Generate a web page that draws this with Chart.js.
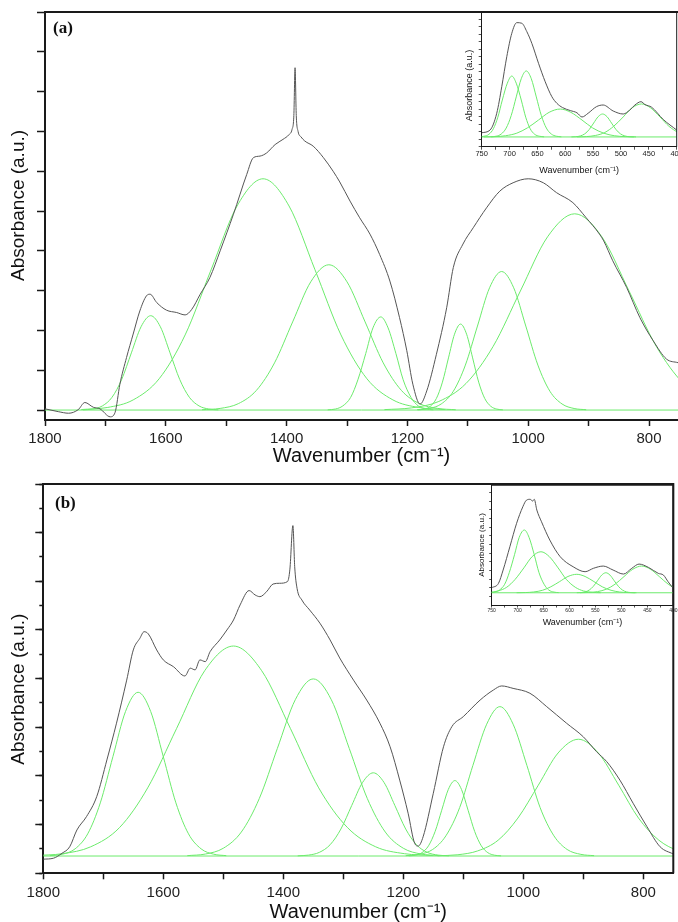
<!DOCTYPE html>
<html>
<head>
<meta charset="utf-8">
<script src="https://cdn.jsdelivr.net/npm/chart.js@4.4.0/dist/chart.umd.min.js"></script>
<style>
  html, body { margin: 0; padding: 0; background: #fff; width: 678px; height: 922px; overflow: hidden; }
  canvas { position: absolute; }
</style>
</head>
<body>
<canvas id="mainA" width="678" height="470" style="left:0;top:0"></canvas>
<canvas id="insetA" width="218" height="180" style="left:460px;top:0"></canvas>
<canvas id="mainB" width="678" height="460" style="left:0;top:470px"></canvas>
<canvas id="insetB" width="208" height="160" style="left:470px;top:480px"></canvas>
<script>
// ---- panel (a): measured spectrum and fitted bands, [wavenumber, absorbance] ----
const specA = [[1800,0.03],[1778,-0.04],[1761,-0.08],[1745,0.01],[1734,0.19],[1720,0.07],[1709,0.03],[1692,-0.17],[1684,-0.06],[1676,0.65],[1665,1.32],[1654,1.91],[1643,2.49],[1632,2.87],[1626,2.91],[1615,2.70],[1599,2.51],[1582,2.45],[1568,2.39],[1557,2.53],[1543,2.91],[1527,3.33],[1510,4.00],[1488,4.92],[1466,5.92],[1455,6.34],[1444,6.38],[1433,6.46],[1419,6.67],[1406,6.80],[1396,6.92],[1391,7.05],[1388,7.4],[1386,8.60],[1384,7.4],[1381,7.0],[1376,6.86],[1370,6.76],[1356,6.63],[1339,6.34],[1323,6.00],[1312,5.73],[1295,5.25],[1279,4.83],[1262,4.42],[1246,3.91],[1229,3.24],[1213,2.32],[1201,1.49],[1191,0.65],[1179,0.15],[1168,0.48],[1152,1.40],[1135,2.57],[1124,3.58],[1108,4.17],[1091,4.58],[1069,5.08],[1047,5.50],[1025,5.71],[1000,5.81],[975,5.71],[953,5.46],[926,5.21],[904,4.83],[882,4.42],[875,4.25],[860,3.75],[837,3.08],[815,2.32],[793,1.74],[771,1.28],[752,1.19]];
const aBase = [[1800,0],[752,0]];
const aFit1 = [[1737,0.005],[1721,0.026],[1705,0.104],[1689,0.321],[1673,0.770],[1657,1.437],[1641,2.092],[1625,2.37],[1609,2.092],[1593,1.437],[1577,0.770],[1561,0.321],[1545,0.104],[1529,0.026],[1513,0.005]];
const aFit2 = [[1740,0.013],[1697,0.064],[1654,0.255],[1611,0.786],[1568,1.887],[1525,3.524],[1482,5.127],[1439,5.81],[1396,5.127],[1353,3.524],[1310,1.887],[1267,0.786],[1224,0.255],[1181,0.064],[1138,0.013]];
const aFit3 = [[1540,0.008],[1510,0.041],[1480,0.160],[1450,0.494],[1420,1.185],[1390,2.214],[1360,3.221],[1330,3.65],[1300,3.221],[1270,2.214],[1240,1.185],[1210,0.494],[1180,0.160],[1150,0.041],[1120,0.008]];
const aFit4 = [[1332,0.005],[1319,0.026],[1307,0.103],[1294,0.317],[1282,0.760],[1269,1.419],[1257,2.065],[1244,2.34],[1232,2.065],[1219,1.419],[1207,0.760],[1194,0.317],[1182,0.103],[1169,0.026],[1157,0.005]];
const aFit5 = [[1182,0.005],[1172,0.024],[1162,0.095],[1152,0.292],[1142,0.701],[1132,1.310],[1122,1.906],[1112,2.16],[1102,1.906],[1092,1.310],[1082,0.701],[1072,0.292],[1062,0.095],[1052,0.024],[1042,0.005]];
const aFit6 = [[1184,0.008],[1164,0.039],[1144,0.153],[1124,0.471],[1104,1.130],[1084,2.111],[1064,3.071],[1044,3.48],[1024,3.071],[1004,2.111],[984,1.130],[964,0.471],[944,0.153],[924,0.039],[904,0.008]];
const aFit7 = [[1238,0.011],[1193,0.055],[1148,0.216],[1103,0.667],[1058,1.601],[1013,2.990],[968,4.351],[923,4.93],[878,4.351],[833,2.990],[788,1.601],[743,0.667],[698,0.216]];

// inset of (a), 750-400 cm-1
const specIA = [[750,-0.03],[735,0.15],[723,1.27],[714,3.04],[705,5.04],[696,6.6],[687,7.31],[678,7.27],[669,6.71],[660,5.93],[648,4.6],[636,3.37],[624,2.37],[615,1.93],[605,1.65],[591,1.45],[579,1.3],[570,1.02],[559,1.27],[544,1.71],[532,1.82],[514,1.42],[496,1.22],[484,1.49],[475,1.82],[464,2.04],[457,1.85],[445,1.67],[424,0.85],[400,0.15]];
const iaBase = [[750,-0.31],[400,-0.31]];
const iaFit1 = [[754,-0.301],[746,-0.265],[737,-0.132],[729,0.239],[721,1.008],[713,2.152],[704,3.273],[696,3.75],[688,3.273],[679,2.152],[671,1.008],[663,0.239],[655,-0.132],[646,-0.265],[638,-0.301]];
const iaFit2 = [[733,-0.300],[724,-0.261],[715,-0.117],[706,0.285],[697,1.119],[688,2.359],[679,3.573],[670,4.09],[661,3.573],[652,2.359],[643,1.119],[634,0.285],[625,-0.117],[616,-0.261],[607,-0.300]];
const iaFit3 = [[746,-0.306],[726,-0.289],[707,-0.228],[687,-0.058],[668,0.294],[648,0.818],[629,1.331],[609,1.55],[590,1.331],[570,0.818],[551,0.294],[531,-0.058],[512,-0.228],[492,-0.289],[473,-0.306]];
const iaFit4 = [[589,-0.307],[581,-0.293],[573,-0.243],[565,-0.103],[557,0.187],[549,0.618],[541,1.04],[533,1.22],[525,1.04],[517,0.618],[509,0.187],[501,-0.103],[493,-0.243],[485,-0.293],[477,-0.307]];
const iaFit5 = [[579,-0.305],[562,-0.286],[546,-0.213],[529,-0.012],[513,0.404],[496,1.024],[480,1.632],[463,1.89],[447,1.632],[430,1.024],[414,0.404],[397,-0.012],[381,-0.213]];

// ---- panel (b) ----
const specB = [[1800,0.58],[1783,0.62],[1769,0.82],[1756,1.09],[1744,1.78],[1728,2.33],[1711,3.15],[1694,4.66],[1678,6.17],[1661,7.94],[1650,9.18],[1639,9.66],[1632,9.93],[1625,9.84],[1611,9.18],[1600,8.77],[1583,8.49],[1564,8.11],[1555,8.43],[1547,8.36],[1539,8.77],[1530,8.70],[1522,9.11],[1506,9.59],[1494,10.0],[1483,10.41],[1472,11.03],[1457,11.62],[1447,11.44],[1439,11.37],[1428,11.57],[1417,11.89],[1406,11.92],[1393,11.99],[1389,12.5],[1384,14.29],[1381,12.6],[1377,11.7],[1369,11.23],[1356,10.82],[1339,10.28],[1322,9.59],[1306,8.85],[1283,7.94],[1261,7.12],[1239,6.17],[1222,5.20],[1206,3.83],[1192,2.47],[1181,1.23],[1175,1.12],[1167,1.50],[1150,3.29],[1133,5.20],[1119,6.03],[1100,6.44],[1072,7.12],[1050,7.53],[1036,7.70],[1017,7.60],[989,7.40],[961,6.85],[928,6.17],[900,5.61],[878,5.00],[861,4.59],[839,3.83],[817,2.88],[794,1.92],[772,1.09],[750,0.79]];
const bBase = [[1800,0.71],[750,0.71]];
const bFit1 = [[1789,0.725],[1768,0.785],[1747,1.005],[1726,1.621],[1705,2.895],[1684,4.792],[1663,6.649],[1642,7.44],[1621,6.649],[1600,4.792],[1579,2.895],[1558,1.621],[1537,1.005],[1516,0.785],[1495,0.725]];
const bFit2 = [[1816,0.729],[1768,0.806],[1721,1.089],[1673,1.878],[1626,3.512],[1578,5.944],[1531,8.326],[1483,9.34],[1436,8.326],[1388,5.944],[1341,3.512],[1293,1.878],[1246,1.089],[1198,0.806],[1151,0.729]];
const bFit3 = [[1560,0.726],[1530,0.791],[1500,1.03],[1470,1.695],[1440,3.074],[1410,5.125],[1380,7.135],[1350,7.99],[1320,7.135],[1290,5.125],[1260,3.074],[1230,1.695],[1200,1.03],[1170,0.791],[1140,0.726]];
const bFit4 = [[1376,0.718],[1358,0.748],[1340,0.86],[1322,1.173],[1304,1.82],[1286,2.784],[1268,3.728],[1250,4.13],[1232,3.728],[1214,2.784],[1196,1.82],[1178,1.173],[1160,0.86],[1142,0.748],[1124,0.718]];
const bFit5 = [[1191,0.717],[1180,0.744],[1169,0.846],[1158,1.129],[1147,1.717],[1136,2.59],[1125,3.446],[1114,3.81],[1103,3.446],[1092,2.59],[1081,1.717],[1070,1.129],[1059,0.846],[1048,0.744],[1037,0.717]];
const bFit6 = [[1196,0.724],[1174,0.778],[1151,0.98],[1129,1.541],[1106,2.704],[1084,4.434],[1061,6.129],[1039,6.85],[1017,6.129],[994,4.434],[972,2.704],[949,1.541],[927,0.98],[904,0.778],[882,0.724]];
const bFit7 = [[1143,0.721],[1109,0.763],[1076,0.921],[1042,1.359],[1009,2.269],[975,3.621],[942,4.946],[908,5.51],[875,4.946],[841,3.621],[808,2.269],[774,1.359],[741,0.921],[707,0.763],[674,0.721]];

// inset of (b)
const specIB = [[750,0],[737,0.5],[728,2.04],[715,4.73],[702,7.43],[690,9.34],[683,10.1],[676,10.2],[671,10.0],[668,10.2],[663,8.96],[654,7.61],[638,5.5],[618,3.58],[593,2.42],[570,1.85],[554,2.24],[535,2.5],[516,2.04],[496,1.58],[480,2.24],[466,2.73],[448,2.35],[429,1.66],[419,1.46],[410,0.69],[400,-0.07]];
const ibBase = [[750,-0.58],[400,-0.58]];
const ibFit1 = [[754,-0.564],[744,-0.50],[735,-0.262],[725,0.40],[716,1.771],[706,3.811],[697,5.809],[687,6.66],[678,5.809],[668,3.811],[659,1.771],[649,0.40],[640,-0.262],[630,-0.50],[621,-0.564]];
const ibFit2 = [[771,-0.57],[754,-0.528],[738,-0.372],[721,0.06],[705,0.956],[688,2.289],[672,3.594],[655,4.15],[639,3.594],[622,2.289],[606,0.956],[589,0.06],[573,-0.372],[556,-0.528],[540,-0.57]];
const ibFit3 = [[702,-0.575],[685,-0.556],[669,-0.487],[652,-0.292],[636,0.112],[619,0.712],[603,1.30],[586,1.55],[570,1.30],[553,0.712],[537,0.112],[520,-0.292],[504,-0.487],[487,-0.556],[471,-0.575]];
const ibFit4 = [[586,-0.575],[578,-0.554],[570,-0.479],[562,-0.267],[554,0.17],[546,0.821],[538,1.459],[530,1.73],[522,1.459],[514,0.821],[506,0.17],[498,-0.267],[490,-0.479],[482,-0.554],[474,-0.575]];
const ibFit5 = [[580,-0.573],[563,-0.546],[546,-0.445],[529,-0.163],[512,0.42],[495,1.289],[478,2.138],[461,2.50],[444,2.138],[427,1.289],[410,0.42],[393,-0.163],[376,-0.445]];

const SANS = '"Liberation Sans", Arial, sans-serif';
const TRACE = '#555555';
const GREEN = '#6ceb6c';
const INK = '#1a1a1a';
const X_TITLE = 'Wavenumber (cm\u207B\u00B9)';

function curve(points, color) {
  return { data: points, borderColor: color, borderWidth: 1, pointRadius: 0, fill: false,
           cubicInterpolationMode: 'monotone' };
}

function sets(spec, base, fits) {
  // spectrum first so it is painted on top
  return [curve(spec, TRACE), curve(base, GREEN)].concat(fits.map(f => curve(f, GREEN)));
}

// top (and optionally right) edge of the box, plus the (a)/(b) tag
const frame = {
  id: 'frame',
  afterDraw(chart, args, opts) {
    const { ctx, chartArea: a } = chart;
    ctx.save();
    ctx.strokeStyle = INK;
    ctx.lineWidth = opts.width;
    ctx.beginPath();
    ctx.moveTo(a.left, a.top);
    ctx.lineTo(a.right, a.top);
    if (opts.right !== false) ctx.lineTo(a.right, a.bottom);
    ctx.stroke();
    if (opts.tag) {
      ctx.fillStyle = '#111';
      ctx.font = 'bold 17px "Liberation Serif", "Times New Roman", serif';
      ctx.textBaseline = 'alphabetic';
      ctx.fillText(opts.tag, opts.tagX, opts.tagY);
    }
    ctx.restore();
  }
};

function xAxis(o) {
  return {
    type: 'linear', reverse: true, min: o.min, max: o.max,
    afterFit: s => { s.height = o.height; s.paddingLeft = 0; s.paddingRight = 0; },
    border: { color: INK, width: o.line },
    grid: { drawOnChartArea: false, tickLength: o.tick, tickColor: INK, tickWidth: o.line * 0.75 },
    ticks: { stepSize: o.step, autoSkip: false, minRotation: 0, maxRotation: 0, includeBounds: false,
             padding: o.pad, color: '#222', font: { family: SANS, size: o.font },
             callback: v => (v % o.every === 0 ? String(v) : '') },
    title: { display: true, text: X_TITLE, color: '#111', font: { family: SANS, size: o.titleSize },
             padding: { top: 0, bottom: o.titlePad } }
  };
}

function yAxis(o) {
  return {
    type: 'linear', min: o.min, max: o.max, weight: o.weight || 0,
    afterFit: s => { s.width = o.width; s.paddingTop = 0; s.paddingBottom = 0; },
    border: { color: INK, width: o.line },
    grid: { drawOnChartArea: false, tickLength: o.tick, tickColor: INK, tickWidth: o.line * 0.75 },
    ticks: { display: false, stepSize: o.step, includeBounds: false },
    title: { display: !!o.title, text: o.title || '', color: '#111', font: { family: SANS, size: o.titleSize || 10 },
             padding: { top: o.titlePad || 0, bottom: 0 } }
  };
}

function draw(id, datasets, padding, scales, frameOpts) {
  return new Chart(document.getElementById(id), {
    type: 'line',
    data: { datasets },
    options: {
      responsive: false, animation: false, events: [],
      layout: { padding },
      plugins: { legend: { display: false }, tooltip: { enabled: false }, frame: frameOpts },
      scales
    },
    plugins: [frame]
  });
}

// panel (a)
draw('mainA', sets(specA, aBase, [aFit1, aFit2, aFit3, aFit4, aFit5, aFit6, aFit7]),
  { left: 0, top: 12, right: 0, bottom: 0 },
  {
    x: xAxis({ min: 752, max: 1800, step: 100, every: 200, height: 50, line: 2, tick: 6, pad: 4,
               font: 15, titleSize: 20, titlePad: 2 }),
    y: yAxis({ min: -0.25, max: 10, step: 1, width: 45, line: 2, tick: 8,
               title: '    Absorbance (a.u.)', titleSize: 19, titlePad: 7 })
  },
  { width: 2, right: false, tag: '(a)', tagX: 53, tagY: 33 });

draw('insetA', sets(specIA, iaBase, [iaFit1, iaFit2, iaFit3, iaFit4, iaFit5]),
  { left: 0, top: 11.7, right: 1.3, bottom: 0 },
  {
    x: xAxis({ min: 400, max: 750, step: 25, every: 50, height: 33.3, line: 1, tick: 3, pad: 0,
               font: 7.5, titleSize: 9, titlePad: 3.6 }),
    y: yAxis({ min: -0.96, max: 8.04, step: 0.5, width: 21.7, line: 1, tick: 3,
               title: 'Absorbance (a.u.)     ', titleSize: 9, titlePad: 3.9 })
  },
  { width: 1 });

// panel (b)
draw('mainB', sets(specB, bBase, [bFit1, bFit2, bFit3, bFit4, bFit5, bFit6, bFit7]),
  { left: 0, top: 14, right: 4.7, bottom: 0 },
  {
    x: xAxis({ min: 750, max: 1800, step: 100, every: 200, height: 56.7, line: 2, tick: 6, pad: 5,
               font: 15, titleSize: 20, titlePad: 6 }),
    y: yAxis({ min: 0, max: 16, step: 2, width: 43.3, line: 2, tick: 8, weight: 1,
               title: 'Absorbance (a.u.)    ', titleSize: 19, titlePad: 7 }),
    yMinor: yAxis({ min: 0, max: 16, step: 1, width: 0, line: 2, tick: 4, weight: 0 })
  },
  { width: 2, tag: '(b)', tagX: 55, tagY: 38 });

draw('insetB', sets(specIB, ibBase, [ibFit1, ibFit2, ibFit3, ibFit4, ibFit5]),
  { left: 0, top: 5, right: 4.7, bottom: 0 },
  {
    x: xAxis({ min: 400, max: 750, step: 25, every: 50, height: 35, line: 1, tick: 2.5, pad: 0,
               font: 5, titleSize: 9, titlePad: 11.6 }),
    y: yAxis({ min: -1.99, max: 11.85, step: 1, width: 21.7, line: 1, tick: 2.5,
               title: 'Absorbance (a.u.)', titleSize: 8, titlePad: 6.9 })
  },
  { width: 1.5 });
</script>
</body>
</html>
